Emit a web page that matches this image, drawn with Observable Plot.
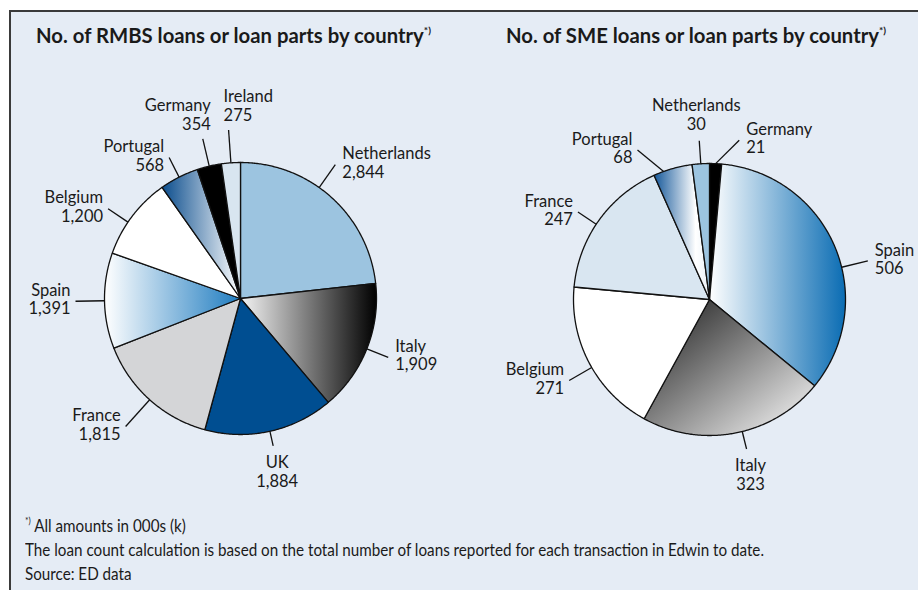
<!DOCTYPE html>
<html>
<head>
<meta charset="utf-8">
<script src="https://cdn.jsdelivr.net/npm/d3@7"></script>
<script src="https://cdn.jsdelivr.net/npm/@observablehq/plot@0.6"></script>
<style>
  html, body { margin: 0; padding: 0; background: #ffffff; }
  body { width: 918px; height: 590px; position: relative; overflow: hidden; font-family: Lato, "Open Sans", sans-serif; }
  #panel { position: absolute; left: 9px; top: 10px; width: 940px; height: 600px; background: #e5ecf5;
           border-left: 2px solid #3a3a3a; border-top: 2px solid #3a3a3a; }
  .title { position: absolute; top: 23px; text-align: center; font-weight: bold; font-size: 20.3px; color: #1a1a1a; white-space: nowrap; }
  .title sup { font-size: 0.5em; vertical-align: 0.9em; font-weight: bold; }
  .foot sup { font-size: 0.55em; vertical-align: 0.8em; }
  .chart { position: absolute; top: 60px; }
  .foot { position: absolute; left: 25px; top: 509px; font-family: Lato, sans-serif;
          font-size: 17.5px; line-height: 24px; color: #1a1a1a; white-space: nowrap; transform-origin: 0 0; }
  .foot span { display: inline-block; }
</style>
</head>
<body>
<div id="panel"></div>
<div class="title" style="left:4px;width:459px">No. of RMBS loans or loan parts by country<sup>*)</sup></div>
<div class="title" style="left:472px;width:448px">No. of SME loans or loan parts by country<sup>*)</sup></div>
<div class="chart" id="rmbs" style="left:11px"></div>
<div class="chart" id="sme" style="left:470px"></div>
<div class="foot" id="foot">
  <div><span><sup>*)</sup> All amounts in 000s (k)</span></div>
  <div><span id="footLong">The loan count calculation is based on the total number of loans reported for each transaction in Edwin to date.</span></div>
  <div><span>Source: ED data</span></div>
</div>
<script>
// ---- Data ----
const rmbsCountries = ["Netherlands", "Italy", "UK", "France", "Spain", "Belgium", "Portugal", "Germany", "Ireland"];
const rmbsLoans = [2844, 1909, 1884, 1815, 1391, 1200, 568, 354, 275];
const smeCountries = ["Germany", "Spain", "Italy", "Belgium", "France", "Portugal", "Netherlands"];
const smeLoans = [21, 506, 323, 271, 247, 68, 30];

// ---- Styles ----
const rmbsFills = ["#9cc4e0", "url(#rmbs-italy)", "#004e91", "#d4d5d7", "url(#rmbs-spain)", "#ffffff", "url(#rmbs-portugal)", "#000000", "#d8e5f0"];
const smeFills = ["#000000", "url(#sme-spain)", "url(#sme-italy)", "#ffffff", "#d9e6f1", "url(#sme-portugal)", "#9cc4e0"];

// ---- Label layout (leader length in px, rotation / tilt in degrees, text side) ----
const rmbsLabelLayout = [
  {len: 28, rot: -6.5, pos: "start"},
  {len: 23, pos: "start"},
  {len: 15, pos: "below"},
  {len: 36, pos: "end"},
  {len: 29, pos: "end"},
  {len: 24, rot: -3, pos: "end"},
  {len: 22, pos: "end"},
  {len: 28, pos: "above-end"},
  {len: 33, pos: "above-start"}
];
const smeLabelLayout = [
  {len: 26, tilt: 8, pos: "start"},
  {len: 27, rot: 9, pos: "start"},
  {len: 18, rot: -3, pos: "below"},
  {len: 26, rot: -2, pos: "end"},
  {len: 22, rot: -2, pos: "end"},
  {len: 30, rot: -4, tilt: -6, pos: "end"},
  {len: 23, pos: "above"}
];

const gradients = {
  "rmbs-italy": {x2: 1, y2: 0, stops: [["0%", "#f4f4f4"], ["100%", "#000000"]]},
  "rmbs-spain": {x2: 1, y2: 0, stops: [["0%", "#ffffff"], ["100%", "#1f7cc0"]]},
  "rmbs-portugal": {x2: 1, y2: 0, stops: [["0%", "#0b4d8d"], ["100%", "#ffffff"]]},
  "sme-spain": {x2: 1, y2: 0, stops: [["0%", "#ffffff"], ["100%", "#0a6cb3"]]},
  "sme-italy": {x2: 1, y2: 1, stops: [["0%", "#151515"], ["100%", "#ffffff"]]},
  "sme-portugal": {x2: 1, y2: 0, stops: [["0%", "#15589a"], ["75%", "#ffffff"], ["100%", "#e8f0f7"]]}
};

const posStyles = {
  "start": {textAnchor: "start", lineAnchor: "middle", dx: 7, dy: -2},
  "end": {textAnchor: "end", lineAnchor: "middle", dx: -5, dy: -2},
  "above": {textAnchor: "middle", lineAnchor: "bottom", dx: -3, dy: -11},
  "above-start": {textAnchor: "start", lineAnchor: "bottom", dx: -5, dy: -9},
  "above-end": {textAnchor: "end", lineAnchor: "bottom", dx: 8, dy: -9},
  "below": {textAnchor: "middle", lineAnchor: "top", dx: 4, dy: 9}
};

const fmt = d3.format(",");
const RAD = Math.PI / 180;

function pieChart({names, values, fills, layout, width, height, cx, cy, r}) {
  const arcs = d3.pie().sort(null).value(d => d)(values);
  const pt = (a, rr) => [rr * Math.sin(a), -rr * Math.cos(a)];
  const slicePts = [];
  arcs.forEach((a, i) => {
    const name = names[i], fill = fills[i];
    slicePts.push({name, fill, x: 0, y: 0});
    const n = Math.max(2, Math.ceil((a.endAngle - a.startAngle) / (0.5 * RAD)));
    for (let k = 0; k <= n; k++) {
      const t = a.startAngle + (a.endAngle - a.startAngle) * k / n;
      const [x, y] = pt(t, r);
      slicePts.push({name, fill, x, y});
    }
    slicePts.push({name, fill, x: 0, y: 0});
  });
  const labels = arcs.map((a, i) => {
    const L = layout[i];
    const mid = (a.startAngle + a.endAngle) / 2 + (L.rot || 0) * RAD;
    const endA = mid + (L.tilt || 0) * RAD;
    const [x1, y1] = pt(mid, r);
    const [x2, y2] = pt(endA, r + L.len);
    return {x1, y1, x2, y2, pos: L.pos, text: `${names[i]}\n${fmt(values[i])}`};
  });
  const textMarks = Object.entries(posStyles).map(([pos, s]) =>
    Plot.text(labels.filter(d => d.pos === pos), {
      x: "x2", y: "y2", text: "text", ...s,
      fontSize: 16.5, lineHeight: 1.12, fill: "#1a1a1a", fontFamily: "Lato, 'Open Sans', sans-serif"
    })
  );
  return Plot.plot({
    width, height, margin: 0,
    style: {background: "transparent", overflow: "visible"},
    x: {domain: [-cx, width - cx], range: [0, width], axis: null},
    y: {domain: [-cy, height - cy], range: [0, height], axis: null},
    color: {type: "identity"},
    marks: [
      Plot.line(slicePts, {x: "x", y: "y", z: "name", fill: "fill", stroke: "#111", strokeWidth: 1.3, strokeLinejoin: "round", curve: "linear"}),
      Plot.link(labels, {x1: "x1", y1: "y1", x2: "x2", y2: "y2", stroke: "#111", strokeWidth: 1.3}),
      ...textMarks
    ]
  });
}

function addDefs(svg, ids) {
  const defs = d3.select(svg).insert("defs", ":first-child");
  ids.forEach(id => {
    const g = gradients[id];
    const lg = defs.append("linearGradient").attr("id", id)
      .attr("x1", 0).attr("y1", 0).attr("x2", g.x2).attr("y2", g.y2);
    g.stops.forEach(([o, c]) => lg.append("stop").attr("offset", o).attr("stop-color", c));
  });
}

const rmbsSvg = pieChart({names: rmbsCountries, values: rmbsLoans, fills: rmbsFills, layout: rmbsLabelLayout,
  width: 459, height: 445, cx: 229, cy: 238, r: 136});
addDefs(rmbsSvg, ["rmbs-italy", "rmbs-spain", "rmbs-portugal"]);
document.getElementById("rmbs").appendChild(rmbsSvg);

const smeSvg = pieChart({names: smeCountries, values: smeLoans, fills: smeFills, layout: smeLabelLayout,
  width: 448, height: 445, cx: 239, cy: 239, r: 136});
addDefs(smeSvg, ["sme-spain", "sme-italy", "sme-portugal"]);
document.getElementById("sme").appendChild(smeSvg);

// condense the footnote to the reference's narrow typeface width
const longW = document.getElementById("footLong").getBoundingClientRect().width;
if (longW > 0) document.getElementById("foot").style.transform = `scaleX(${739 / longW})`;
</script>
</body>
</html>
